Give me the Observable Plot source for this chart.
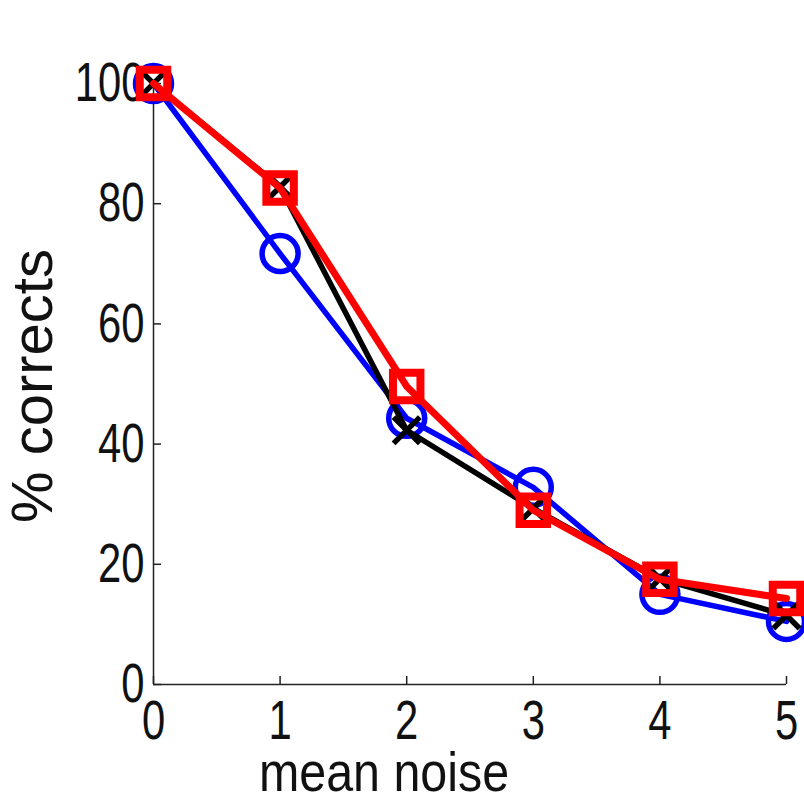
<!DOCTYPE html>
<html><head><meta charset="utf-8">
<script src="https://cdn.jsdelivr.net/npm/d3@7"></script>
<script src="https://cdn.jsdelivr.net/npm/@observablehq/plot@0.6"></script>
<style>body{margin:0;background:#fff;overflow:hidden}</style>
</head><body><div id="chart"></div>
<script>
const noise = [0, 1, 2, 3, 4, 5];
const blueCircle = [100, 71.7, 44.3, 32.8, 15.0, 10.5];
const blackCross = [100, 82.8, 42.3, 29.3, 17.6, 11.5];
const redSquare  = [100, 82.6, 49.6, 29.0, 17.5, 14.3];
const yTicks = [0, 20, 40, 60, 80, 100];
const xTicks = [0, 1, 2, 3, 4, 5];
const xLabel = "mean noise";
const yLabel = "% corrects";

const mk = (vals) => noise.map((x, i) => ({x, y: vals[i]}));
const blue = mk(blueCircle), black = mk(blackCross), red = mk(redSquare);
const axisColor = "#222";

const W = 804, H = 803, ML = 153, MR = 18, MT = 83, MB = 119, TICK = 8;
const frameW = W - ML - MR, frameH = H - MT - MB;

const chart = Plot.plot({
  width: W,
  height: H,
  marginLeft: ML,
  marginRight: MR,
  marginTop: MT,
  marginBottom: MB,
  style: {fontFamily: "'Liberation Sans', Arial, Helvetica, sans-serif", fontSize: "55px", background: "#fff", overflow: "visible"},
  x: {domain: [0, 5]},
  y: {domain: [0, 100]},
  marks: [
    Plot.axisY({ticks: yTicks, tickSize: 0, tickPadding: 9, tickFormat: d3.format("d"), label: null, color: "#111"}),
    Plot.axisX({ticks: xTicks, tickSize: 0, tickPadding: 15, tickFormat: d3.format("d"), label: null, color: "#111"}),
    Plot.tickY(yTicks, {y: d => d, insetRight: frameW - TICK, stroke: axisColor, strokeWidth: 1.5}),
    Plot.tickX(xTicks, {x: d => d, insetTop: frameH - TICK, stroke: axisColor, strokeWidth: 1.5}),
    Plot.ruleX([0], {stroke: axisColor, strokeWidth: 1.5}),
    Plot.ruleY([0], {stroke: axisColor, strokeWidth: 1.5}),
    Plot.line(blue, {x: "x", y: "y", stroke: "#0000ff", strokeWidth: 5.5}),
    Plot.dot(blue, {x: "x", y: "y", r: 18, stroke: "#0000ff", strokeWidth: 5.5, fill: "none"}),
    Plot.line(black, {x: "x", y: "y", stroke: "#000", strokeWidth: 5.5}),
    Plot.dot(black, {x: "x", y: "y", r: 12, symbol: "times", stroke: "#000", strokeWidth: 5.5}),
    Plot.line(red, {x: "x", y: "y", stroke: "#ff0000", strokeWidth: 7}),
    Plot.dot(red, {x: "x", y: "y", r: 15.5, symbol: "square", stroke: "#ff0000", strokeWidth: 8, fill: "none"}),
    Plot.text([yLabel], {frameAnchor: "left", rotate: -90, dx: -120, dy: 2, textAnchor: "middle", fill: "#111", fontSize: 58}),
    Plot.text([xLabel], {frameAnchor: "bottom", dx: -86, dy: 106, textAnchor: "middle", fill: "#111"})
  ]
});
document.getElementById("chart").append(chart);

// horizontally condense text, like the reference's narrow lettering
chart.querySelectorAll("text").forEach(t => {
  const s = t.textContent.trim();
  if (s === yLabel) return;
  const k = s === xLabel ? 0.88 : 0.76;
  const ax = +(t.getAttribute("x") || 0);
  const tr = t.getAttribute("transform") || "";
  t.setAttribute("transform", `${tr} translate(${ax},0) scale(${k},1) translate(${-ax},0)`.trim());
});
</script>
</body></html>
